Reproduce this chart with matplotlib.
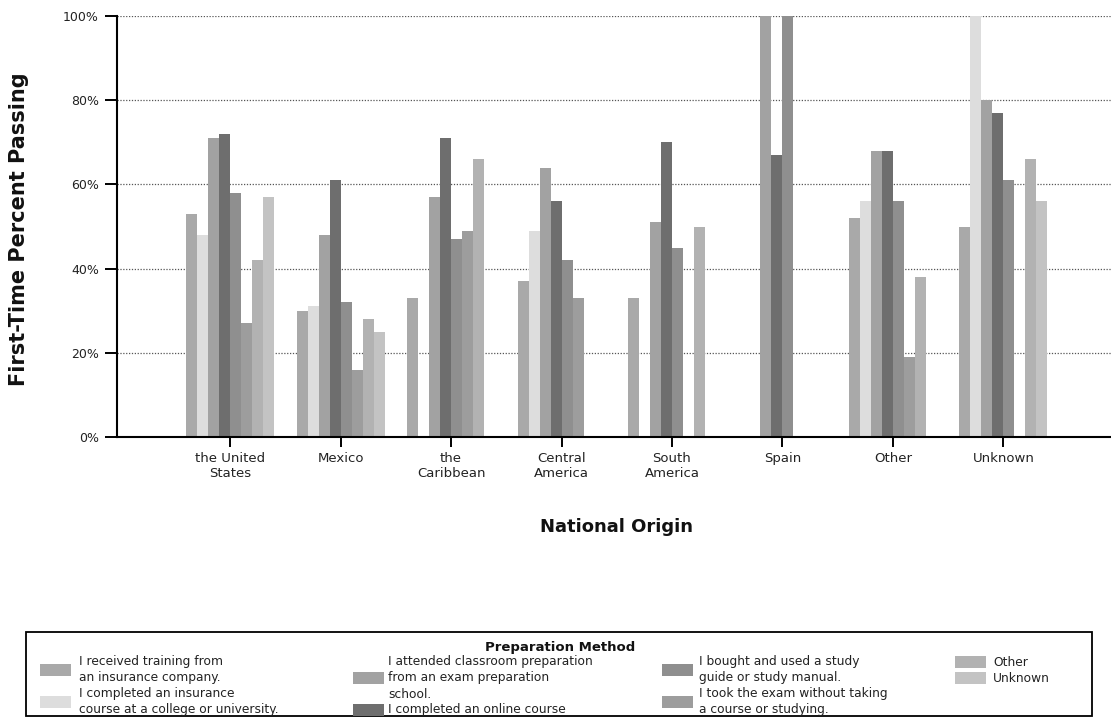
import numpy as np
import matplotlib
matplotlib.use("Agg")
import matplotlib.pyplot as plt
from matplotlib.patches import Rectangle

# ---------------- data ----------------
categories = ["the United\nStates", "Mexico", "the\nCaribbean", "Central\nAmerica",
              "South\nAmerica", "Spain", "Other", "Unknown"]
nan = np.nan
insurance_company = [53, 30, 33, 37, 33, nan, 52, 50]
college_course    = [48, 31, nan, 49, nan, nan, 56, 100]
classroom_school  = [71, 48, 57, 64, 51, 100, 68, 80]
online_course     = [72, 61, 71, 56, 70, 67, 68, 77]
study_guide       = [58, 32, 47, 42, 45, 100, 56, 61]
no_study          = [27, 16, 49, 33, nan, nan, 19, nan]
other_method      = [42, 28, 66, nan, 50, nan, 38, 66]
unknown_method    = [57, 25, nan, nan, nan, nan, nan, 56]

series_labels = [
    "I received training from\nan insurance company.",
    "I completed an insurance\ncourse at a college or university.",
    "I attended classroom preparation\nfrom an exam preparation\nschool.",
    "I completed an online course",
    "I bought and used a study\nguide or study manual.",
    "I took the exam without taking\na course or studying.",
    "Other",
    "Unknown",
]
series = [insurance_company, college_course, classroom_school, online_course,
          study_guide, no_study, other_method, unknown_method]
colors = ["#a9a9a9", "#dddddd", "#a2a2a2", "#6e6e6e",
          "#8f8f8f", "#9d9d9d", "#b2b2b2", "#c3c3c3"]
yticks = [0, 20, 40, 60, 80, 100]

# ---------------- figure ----------------
W, H = 1111, 717
fig = plt.figure(figsize=(W / 100, H / 100), dpi=100)
fig.patch.set_facecolor("white")

def fx(px):
    return px / W

def fy(py):
    return 1 - py / H

ax_l, ax_r, ax_t, ax_b = 117, 1111, 16, 437
ax = fig.add_axes([fx(ax_l), fy(ax_b), (ax_r - ax_l) / W, (ax_b - ax_t) / H])

x = np.arange(len(categories))
bw = 0.0996
n = len(series)
for j, (vals, col) in enumerate(zip(series, colors)):
    ax.bar(x + (j - (n - 1) / 2) * bw, vals, width=bw, color=col,
           edgecolor="none", zorder=2)

ax.set_ylim(0, 100)
ax.set_xlim(-1.025, 7.975)
ax.set_yticks(yticks)
ax.set_yticklabels([f"{v}%" for v in yticks], fontsize=9, family="DejaVu Sans",
                   color="#222222")
ax.set_xticks(x)
ax.set_xticklabels(categories, fontsize=9.5, family="DejaVu Sans", linespacing=1.15,
                   color="#222222")
ax.tick_params(axis="y", direction="out", length=9, width=1.4, pad=4)
ax.tick_params(axis="x", direction="out", length=7, width=1.4, pad=4)

for yv in yticks[1:]:
    ax.axhline(yv, color="#555555", lw=0.9, linestyle=(0, (1, 1.3)), zorder=1)

for s in ["top", "right"]:
    ax.spines[s].set_visible(False)
for s in ["left", "bottom"]:
    ax.spines[s].set_linewidth(1.5)
    ax.spines[s].set_color("black")
    ax.spines[s].set_zorder(3)

fig.text(fx(19), fy(229), "First-Time Percent Passing", rotation=90,
         ha="center", va="center", fontsize=15, fontweight="bold",
         family="DejaVu Sans", color="#111111")
fig.text(fx(617), fy(527), "National Origin", ha="center", va="center",
         fontsize=13, fontweight="bold", family="DejaVu Sans", color="#111111")

# ---------------- legend (manual) ----------------
box_l, box_r, box_t, box_b = 26, 1092, 632, 716
fig.patches.append(Rectangle((fx(box_l), fy(box_b)), (box_r - box_l) / W,
                             (box_b - box_t) / H, transform=fig.transFigure,
                             fill=False, edgecolor="black", lw=1.3))
fig.text(fx(560), fy(647), "Preparation Method", ha="center", va="center",
         fontsize=9.5, fontweight="bold", family="DejaVu Sans", color="#111111")

line_y = [662, 678, 694, 710]
# (patch x, text x, first line index) for each series
layout = [
    (40, 79, 0), (40, 79, 2),
    (353, 388, 0), (353, 388, 3),
    (662, 699, 0), (662, 699, 2),
    (955, 993, 0), (955, 993, 1),
]
pw, ph = 31, 12
for (px, tx, li), lab, col in zip(layout, series_labels, colors):
    nlines = lab.count("\n") + 1
    ys = line_y[li:li + nlines]
    yc = (ys[0] + ys[-1]) / 2
    fig.patches.append(Rectangle((fx(px), fy(yc + ph / 2)), pw / W, ph / H,
                                 transform=fig.transFigure, facecolor=col,
                                 edgecolor="none"))
    for k, line in enumerate(lab.split("\n")):
        fig.text(fx(tx), fy(ys[k]), line, ha="left", va="center",
                 fontsize=8.8, family="DejaVu Sans", color="#222222")

fig.savefig("out.png", dpi=100)
